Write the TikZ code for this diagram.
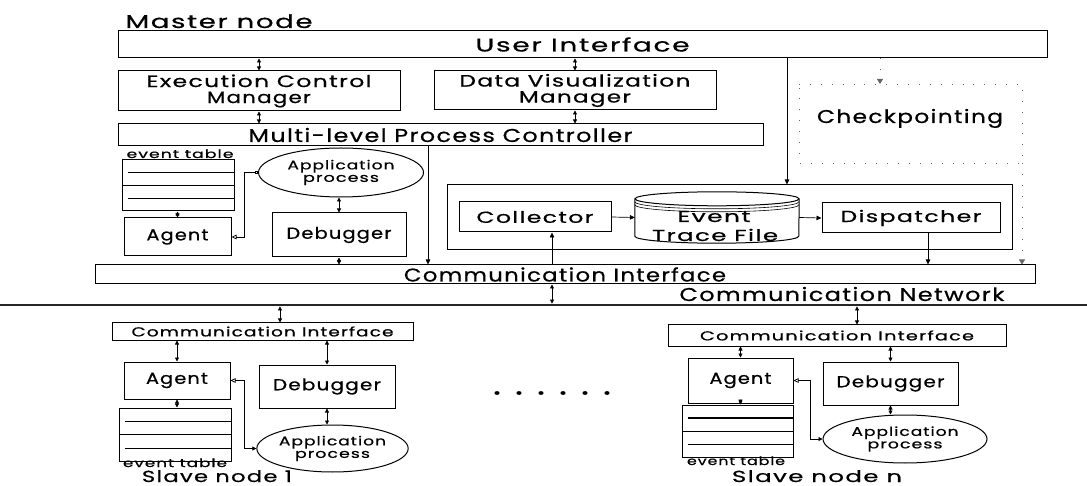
\documentclass[tikz,border=0pt]{standalone}
\usepackage{fontspec}
\usepackage{graphicx}
\setmainfont{Poppins}
\newfontfamily\geo{Poppins}[LetterSpace=6, FakeBold=0.6]
\usetikzlibrary{arrows.meta,calc,shapes.geometric}
% stretch a label to a given width (pt), keeping its height
\newcommand{\fw}[2]{\resizebox{#1pt}{\height}{#2}}
\begin{document}
\begin{tikzpicture}[x=1pt,y=1pt,
  box/.style={draw, line width=1pt, rectangle, inner sep=0pt, align=center},
  ell/.style={draw, ellipse, line width=1pt, inner sep=0pt, align=center},
  fbig/.style={font=\geo\fontsize{18.5}{15}\selectfont},
  ftwo/.style={font=\geo\fontsize{16.5}{16}\selectfont},
  fmid/.style={font=\geo\fontsize{16}{15}\selectfont},
  fsml/.style={font=\geo\fontsize{12.5}{12.5}\selectfont},
  fci/.style={font=\geo\fontsize{13}{13}\selectfont},
  ftiny/.style={font=\geo\fontsize{11.5}{11}\selectfont},
  fslave/.style={font=\geo\fontsize{16}{15}\selectfont},
  dl/.style={line width=0.7pt, {Triangle[length=4pt,width=4pt]}-{Triangle[length=4pt,width=4pt]}},
  ar/.style={line width=0.7pt, -{Triangle[length=5pt,width=4.5pt]}},
  lnk/.style={line width=0.7pt, {Triangle[length=4pt,width=4pt]}-{Triangle[open,length=5pt,width=4.5pt]}},
  chk/.style={line width=0.8pt, black!60, dash pattern=on 0.9pt off 10pt},
  evtab/.style={path picture={
    \draw[line width=1.2pt] ($(path picture bounding box.north west)!0.25!(path picture bounding box.south west)+(6,0)$) -- ($(path picture bounding box.north east)!0.25!(path picture bounding box.south east)$);
    \draw[line width=1pt] ($(path picture bounding box.north west)!0.5!(path picture bounding box.south west)$) -- ($(path picture bounding box.north east)!0.5!(path picture bounding box.south east)$);
    \draw[line width=1.2pt] ($(path picture bounding box.north west)!0.76!(path picture bounding box.south west)+(6,0)$) -- ($(path picture bounding box.north east)!0.76!(path picture bounding box.south east)$);
  }}
]
\useasboundingbox (0,0) rectangle (1087,-486);

% ---------------- master node ----------------
\node[fbig, anchor=base west] (mlbl) at (122,-28) {\fw{187}{Master node}};
\node[box, fbig, minimum width=929, minimum height=27] (ui) at (582.5,-44.5) {\fw{214}{User Interface}};
\node[box, ftwo, minimum width=282, minimum height=40] (ecm) at (259,-91) {\fw{225}{Execution Control}\\\fw{104}{Manager}};
\node[box, ftwo, minimum width=282, minimum height=39] (dvm) at (575,-90.5) {\fw{231}{Data Visualization}\\\fw{112}{Manager}};
\node[box, fbig, minimum width=645, minimum height=22] (mpc) at (440.5,-135) {\fw{384}{Multi-level Process Controller}};

\node[ftiny, anchor=base west] (etl) at (123,-158) {\fw{107}{event table}};
\node[box, evtab, minimum width=112, minimum height=51] (etab) at (178,-185.5) {};
\node[ell, fsml, minimum width=165, minimum height=49] (app) at (341,-172.5) {\fw{107}{Application}\\\fw{76}{process}};
\node[box, fmid, minimum width=107, minimum height=38] (agent) at (177.5,-237) {\fw{62}{Agent}};
\node[box, fmid, minimum width=134, minimum height=44] (dbg) at (339,-235) {\fw{105}{Debugger}};

\node[box, minimum width=565, minimum height=65] (trace) at (729.5,-217.5) {};
\node[box, fmid, minimum width=152, minimum height=30] (coll) at (535,-217) {\fw{117}{Collector}};
\node[inner sep=0pt, minimum width=164, minimum height=51] (cyl) at (717,-217.5) {};
\node[box, fmid, minimum width=178, minimum height=30] (disp) at (911,-218) {\fw{141}{Dispatcher}};

\node[box, fbig, minimum width=940, minimum height=19] (ci) at (565,-274.5) {\fw{322}{Communication Interface}};
\node[fbig, anchor=base] (ckpt) at (910,-123) {\fw{186}{Checkpointing}};

% event trace file drum
\draw[line width=1pt, fill=white] ([yshift=-7pt]cyl.north west) -- ([yshift=7pt]cyl.south west)
  arc[start angle=180, end angle=360, x radius=82pt, y radius=7pt] -- ([yshift=-7pt]cyl.north east);
\draw[line width=1pt] ([yshift=-7pt]cyl.north) ellipse [x radius=82pt, y radius=7pt];
\draw[line width=0.6pt] ([yshift=-10pt]cyl.north west) arc[start angle=180, end angle=360, x radius=82pt, y radius=7pt];
\draw[line width=0.6pt] ([yshift=-13pt]cyl.north west) arc[start angle=180, end angle=360, x radius=82pt, y radius=7pt];
\node[fmid, anchor=base] (cyt1) at (714,-222) {\fw{73}{Event}};
\node[fmid, anchor=base] (cyt2) at (715,-241) {\fw{126}{Trace File}};

% communication network
\coordinate (netL) at (0,-305);
\coordinate (netR) at (1087,-305);
\draw[line width=2.8pt, black!85] (netL) -- (netR);
\node[fbig, anchor=base] (netlbl) at (842,-301) {\fw{325}{Communication Network}};

% master connectors
\coordinate (x787) at (787,0);
\coordinate (x428) at (428,0);
\coordinate (x928) at (928,0);
\coordinate (x552) at (552,0);
\draw[dl] (ui.south -| ecm.north) -- (ecm.north);
\draw[dl] (ui.south -| dvm.north) -- (dvm.north);
\draw[dl] (ecm.south) -- (ecm.south |- mpc.north);
\draw[dl] (dvm.south) -- (dvm.south |- mpc.north);
\draw[ar] (ui.south -| x787) -- (trace.north -| x787);
\draw[ar] (mpc.south -| x428) -- (ci.north -| x428);
\draw[dl] (etab.south -| agent.north) -- (agent.north);
\draw[dl] (app.south -| dbg.north) -- (dbg.north);
\draw[dl] (dbg.south) -- (dbg.south |- ci.north);
\draw[line width=0.7pt, {Square[open,length=3pt,width=3pt]}-{Triangle[open,length=5pt,width=4.5pt]}] (app.west) -- ++(-14,0) |- (agent.east);
\draw[ar] (coll.east) -- (cyl.west);
\draw[ar] (cyl.east) -- (disp.west);
\draw[ar] (disp.south -| x928) -- (ci.north -| x928);
\draw[ar] (ci.north -| x552) -- (coll.south -| x552);
\draw[dl, shorten >=1.4pt] (ci.south -| x552) -- (x552 |- netL);

% checkpointing (faint dotted frame)
\coordinate (ckTL) at (799,-84);
\coordinate (ckTR) at (1022,-84);
\coordinate (ckBR) at (1022,-163);
\coordinate (ckBL) at (799,-163);
\coordinate (ckIn) at (880,-84);
\draw[chk] (ckTL) -- (ckTR) -- (ckBR) -- (ckBL) -- cycle;
\draw[chk, -{Triangle[length=5pt,width=6pt]}] (ui.south -| ckIn) -- (ckIn);
\draw[chk, -{Triangle[length=5pt,width=6pt]}] (ckBR) -- (ci.north -| ckBR);

% ---------------- slave node 1 ----------------
\node[box, fci, minimum width=301, minimum height=17] (sci1) at (262.5,-331.5) {\fw{262}{Communication Interface}};
\node[box, fmid, minimum width=106, minimum height=37] (sag1) at (177,-380.5) {\fw{62}{Agent}};
\node[box, fmid, minimum width=136, minimum height=43] (sdb1) at (327,-386.5) {\fw{108}{Debugger}};
\node[box, evtab, minimum width=112, minimum height=53] (stb1) at (175,-434.5) {};
\node[ftiny, anchor=base] (stl1) at (175,-467) {\fw{104}{event table}};
\node[ell, fsml, minimum width=150, minimum height=47] (sap1) at (332.5,-448.5) {\fw{107}{Application}\\\fw{75}{process}};
\node[fslave, anchor=base] (sn1) at (217,-482) {\fw{150}{Slave node 1}};

\coordinate (x280) at (280,0);
\draw[dl, shorten <=1.4pt] (x280 |- netL) -- (sci1.north -| x280);
\draw[dl] (sci1.south -| sag1.north) -- (sag1.north);
\draw[dl] (sci1.south -| sdb1.north) -- (sdb1.north);
\draw[dl] (sag1.south) -- (sag1.south |- stb1.north);
\draw[dl] (sdb1.south) -- (sdb1.south |- sap1.north);
\draw[lnk] (sap1.west) -- ++(-12,0) |- (sag1.east);

% ---------------- slave node n ----------------
\node[box, fci, minimum width=338, minimum height=21] (scin) at (837,-335.5) {\fw{274}{Communication Interface}};
\node[box, fmid, minimum width=105, minimum height=45] (sagn) at (740.5,-380.5) {\fw{62}{Agent}};
\node[box, fmid, minimum width=135, minimum height=43] (sdbn) at (890.5,-383.5) {\fw{108}{Debugger}};
\node[box, evtab, minimum width=111, minimum height=52] (stbn) at (737.5,-431) {};
\node[ftiny, anchor=base] (stln) at (736,-465) {\fw{98}{event table}};
\node[ell, fsml, minimum width=164, minimum height=48] (sapn) at (905,-439) {\fw{107}{Application}\\\fw{75}{process}};
\node[fslave, anchor=base] (snn) at (817,-482) {\fw{170}{Slave node n}};

\coordinate (x857) at (857,0);
\draw[dl, shorten <=1.4pt] (x857 |- netL) -- (scin.north -| x857);
\draw[dl] (scin.south -| sagn.north) -- (sagn.north);
\draw[dl] (scin.south -| sdbn.north) -- (sdbn.north);
\draw[dl] (sagn.south) -- (sagn.south |- stbn.north);
\draw[dl] (sdbn.south) -- (sdbn.south |- sapn.north);
\draw[lnk] (sapn.west) -- ++(-12,0) |- (sagn.east);

% ellipsis between the slave nodes
\foreach \i in {0,...,5} {
  \fill ({497+22*\i},-393) ellipse [x radius=2.6pt, y radius=1.9pt];
}
\end{tikzpicture}
\end{document}
